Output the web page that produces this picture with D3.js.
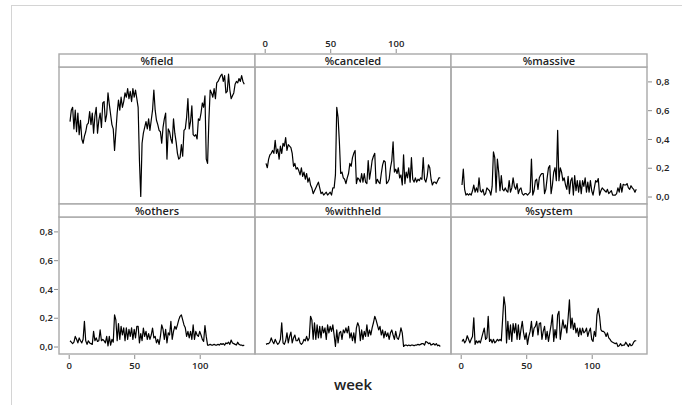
<!DOCTYPE html>
<html>
<head>
<meta charset="utf-8">
<script src="https://cdn.jsdelivr.net/npm/d3@7"></script>
<style>
  body { margin: 0; background: #fff; }
  svg text { font-family: "Open Sans", "DejaVu Sans", sans-serif; }
</style>
</head>
<body>
<div id="chart"></div>
<script>
// weekly shares, weeks 1..134
const weeks = d3.range(1, 135);

const field = [
  0.52,0.60,0.62,0.47,0.60,0.45,0.58,0.43,0.53,0.40,
  0.37,0.42,0.45,0.50,0.51,0.59,0.50,0.58,0.44,0.56,
  0.62,0.44,0.53,0.58,0.48,0.65,0.66,0.52,0.57,0.72,
  0.64,0.57,0.50,0.47,0.32,0.45,0.58,0.67,0.60,0.69,
  0.62,0.66,0.72,0.69,0.75,0.68,0.73,0.66,0.75,0.69,
  0.74,0.68,0.62,0.25,0.00,0.37,0.44,0.48,0.52,0.47,
  0.54,0.46,0.53,0.60,0.74,0.60,0.53,0.50,0.46,0.45,
  0.37,0.48,0.54,0.58,0.26,0.47,0.45,0.40,0.37,0.54,
  0.44,0.38,0.30,0.26,0.27,0.36,0.28,0.46,0.47,0.55,
  0.68,0.47,0.52,0.63,0.43,0.42,0.43,0.40,0.54,0.53,
  0.58,0.65,0.62,0.70,0.26,0.23,0.53,0.74,0.72,0.69,
  0.75,0.68,0.79,0.80,0.82,0.84,0.85,0.80,0.84,0.72,
  0.73,0.85,0.74,0.68,0.70,0.72,0.78,0.80,0.79,0.82,
  0.80,0.84,0.80,0.78
];

const canceled = [
  0.23,0.20,0.26,0.29,0.30,0.32,0.30,0.39,0.30,0.33,
  0.26,0.35,0.30,0.37,0.35,0.41,0.32,0.36,0.35,0.34,
  0.30,0.21,0.23,0.19,0.20,0.18,0.15,0.20,0.14,0.17,
  0.12,0.16,0.10,0.13,0.08,0.06,0.02,0.04,0.06,0.08,
  0.10,0.06,0.02,0.03,0.01,0.02,0.03,0.01,0.02,0.03,
  0.01,0.06,0.06,0.15,0.62,0.55,0.38,0.16,0.17,0.13,
  0.12,0.09,0.13,0.16,0.23,0.21,0.27,0.30,0.32,0.09,
  0.13,0.12,0.10,0.16,0.10,0.16,0.10,0.09,0.25,0.12,
  0.18,0.25,0.28,0.30,0.09,0.12,0.10,0.09,0.16,0.22,
  0.25,0.24,0.09,0.10,0.12,0.20,0.25,0.38,0.17,0.19,
  0.16,0.20,0.13,0.15,0.08,0.29,0.09,0.17,0.13,0.20,
  0.10,0.27,0.12,0.10,0.13,0.10,0.12,0.11,0.13,0.12,
  0.27,0.12,0.10,0.14,0.22,0.20,0.12,0.08,0.10,0.10,
  0.09,0.11,0.13,0.13
];

const massive = [
  0.08,0.19,0.05,0.01,0.02,0.01,0.02,0.01,0.04,0.08,
  0.03,0.06,0.03,0.13,0.04,0.03,0.05,0.01,0.02,0.06,
  0.05,0.04,0.01,0.07,0.31,0.27,0.03,0.26,0.17,0.04,
  0.145,0.05,0.04,0.06,0.04,0.03,0.11,0.03,0.06,0.13,
  0.07,0.05,0.09,0.02,0.05,0.06,0.02,0.01,0.02,0.02,
  0.01,0.02,0.03,0.26,0.01,0.04,0.11,0.12,0.05,0.13,
  0.15,0.16,0.16,0.02,0.05,0.13,0.20,0.215,0.02,0.08,
  0.17,0.20,0.11,0.46,0.11,0.20,0.17,0.11,0.13,0.08,
  0.05,0.14,0.02,0.11,0.13,0.01,0.145,0.04,0.11,0.03,
  0.11,0.02,0.11,0.07,0.13,0.03,0.10,0.03,0.11,0.04,
  0.01,0.06,0.11,0.10,0.125,0.01,0.04,0.06,0.05,0.04,
  0.03,0.05,0.02,0.03,0.04,0.01,0.01,0.01,0.02,0.06,
  0.03,0.09,0.03,0.085,0.08,0.08,0.09,0.06,0.05,0.075,
  0.06,0.05,0.03,0.05
];

const others = [
  0.04,0.03,0.02,0.03,0.07,0.05,0.025,0.06,0.04,0.025,
  0.05,0.175,0.04,0.015,0.04,0.025,0.02,0.015,0.105,0.04,
  0.06,0.035,0.04,0.115,0.04,0.05,0.04,0.025,0.07,0.005,
  0.07,0.01,0.05,0.03,0.22,0.185,0.04,0.16,0.05,0.14,
  0.08,0.13,0.04,0.13,0.05,0.12,0.07,0.13,0.05,0.12,
  0.06,0.14,0.14,0.025,0.09,0.04,0.128,0.07,0.105,0.05,
  0.09,0.05,0.08,0.128,0.06,0.07,0.025,0.05,0.015,0.07,
  0.15,0.12,0.05,0.12,0.025,0.095,0.08,0.175,0.05,0.105,
  0.14,0.12,0.15,0.185,0.21,0.22,0.185,0.15,0.13,0.07,
  0.105,0.06,0.105,0.05,0.15,0.05,0.105,0.08,0.07,0.105,
  0.08,0.05,0.035,0.145,0.07,0.01,0.01,0.015,0.01,0.01,
  0.015,0.01,0.01,0.015,0.01,0.02,0.015,0.02,0.01,0.025,
  0.02,0.03,0.015,0.045,0.025,0.02,0.015,0.01,0.03,0.015,
  0.01,0.01,0.005,0.01
];

const withheld = [
  0.015,0.02,0.02,0.03,0.06,0.035,0.02,0.05,0.03,0.015,
  0.025,0.05,0.165,0.025,0.015,0.04,0.095,0.025,0.07,0.10,
  0.025,0.06,0.08,0.04,0.04,0.06,0.025,0.015,0.025,0.05,
  0.04,0.07,0.04,0.06,0.21,0.185,0.05,0.165,0.05,0.15,
  0.06,0.14,0.06,0.14,0.095,0.13,0.05,0.15,0.095,0.14,
  0.105,0.15,0.08,0.00,0.115,0.025,0.095,0.105,0.05,0.115,
  0.095,0.13,0.095,0.14,0.06,0.095,0.04,0.095,0.025,0.13,
  0.165,0.14,0.04,0.115,0.05,0.105,0.07,0.15,0.07,0.115,
  0.08,0.13,0.165,0.21,0.185,0.15,0.115,0.14,0.08,0.115,
  0.06,0.105,0.07,0.095,0.05,0.095,0.115,0.08,0.05,0.105,
  0.06,0.05,0.08,0.13,0.095,0.00,0.01,0.01,0.005,0.01,
  0.005,0.01,0.01,0.005,0.01,0.01,0.015,0.01,0.015,0.02,
  0.02,0.01,0.035,0.03,0.02,0.025,0.01,0.015,0.02,0.01,
  0.02,0.005,0.01,0.00
];

const system = [
  0.035,0.05,0.025,0.04,0.075,0.05,0.025,0.05,0.07,0.20,
  0.015,0.04,0.025,0.04,0.025,0.06,0.095,0.128,0.05,0.06,
  0.21,0.035,0.05,0.025,0.05,0.025,0.035,0.05,0.04,0.05,
  0.04,0.19,0.345,0.28,0.025,0.175,0.05,0.15,0.035,0.16,
  0.095,0.16,0.05,0.15,0.05,0.118,0.175,0.095,0.05,0.095,
  0.015,0.07,0.105,0.175,0.07,0.128,0.14,0.175,0.08,0.16,
  0.165,0.05,0.105,0.14,0.05,0.105,0.035,0.095,0.15,0.22,
  0.035,0.118,0.06,0.22,0.245,0.05,0.118,0.185,0.128,0.15,
  0.095,0.20,0.325,0.128,0.197,0.118,0.163,0.095,0.128,0.07,
  0.128,0.08,0.128,0.095,0.105,0.128,0.07,0.105,0.128,0.05,
  0.035,0.105,0.07,0.22,0.265,0.21,0.118,0.105,0.105,0.095,
  0.07,0.095,0.06,0.05,0.035,0.03,0.025,0.02,0.025,0.00,
  0.005,0.02,0.005,0.01,0.01,0.03,0.015,0.00,0.02,0.005,
  0.01,0.03,0.04,0.04
];

const xTicks = [0, 50, 100];
const yTicks = [0, 0.2, 0.4, 0.6, 0.8];

// lattice order: top row first as drawn
const panels = [
  {name: '%field',    values: field,    row: 0, col: 0},
  {name: '%canceled', values: canceled, row: 0, col: 1},
  {name: '%massive',  values: massive,  row: 0, col: 2},
  {name: '%others',   values: others,   row: 1, col: 0},
  {name: '%withheld', values: withheld, row: 1, col: 1},
  {name: '%system',   values: system,   row: 1, col: 2}
];

const W = 682, H = 405;
const marginLeft = 59, marginTop = 54;
const panelW = 196, stripH = 13, plotH = 137, rowH = stripH + plotH;
const BORDER = '#a9a9a9';

const svg = d3.select('#chart').append('svg')
  .attr('width', W)
  .attr('height', H);

// outer frame
svg.append('rect')
  .attr('x', 11.5).attr('y', 5.5)
  .attr('width', W + 20).attr('height', H + 20)
  .attr('fill', 'none')
  .attr('stroke', '#d4d4d4');

const x = d3.scaleLinear().domain([-7.4, 142.2]).range([0, panelW]);
const y = d3.scaleLinear().domain([-0.052, 0.9]).range([plotH, 0]);

const fmt = d3.formatLocale({decimal: ',', thousands: '.', grouping: [3], currency: ['', '']}).format('.1f');

const line = d3.line()
  .x((d, i) => x(weeks[i]))
  .y(d => y(d));

function styleAxis(g) {
  g.select('.domain').remove();
  g.selectAll('.tick line').attr('stroke', '#8c8c8c');
  g.selectAll('.tick text')
    .attr('fill', '#222')
    .style('font-size', '9.5px')
    .style('font-weight', 600);
}

panels.forEach(p => {
  const g = svg.append('g')
    .attr('transform', `translate(${marginLeft + p.col*panelW},${marginTop + p.row*rowH})`);

  const plot = g.append('g').attr('transform', `translate(0,${stripH})`);

  plot.append('path')
    .datum(p.values)
    .attr('d', line)
    .attr('fill', 'none')
    .attr('stroke', '#000')
    .attr('stroke-width', 1.2)
    .attr('stroke-linejoin', 'round');

  plot.append('rect')
    .attr('width', panelW).attr('height', plotH)
    .attr('fill', 'none')
    .attr('stroke', BORDER)
    .attr('stroke-width', 1.4);

  // strip
  g.append('rect')
    .attr('width', panelW).attr('height', stripH)
    .attr('fill', '#fff')
    .attr('stroke', BORDER)
    .attr('stroke-width', 1.4);
  g.append('text')
    .attr('x', panelW/2).attr('y', stripH/2 + 4)
    .attr('text-anchor', 'middle')
    .attr('fill', '#222')
    .style('font-size', '11px')
    .style('font-weight', 600)
    .text(p.name);

  // alternating axes, as lattice does
  if (p.row === 1 && p.col !== 1) {
    plot.append('g')
      .attr('transform', `translate(0,${plotH + 1})`)
      .call(d3.axisBottom(x).tickValues(xTicks).tickSize(4).tickPadding(3))
      .call(styleAxis);
  }
  if (p.row === 0 && p.col === 1) {
    g.append('g')
      .attr('transform', 'translate(0,-1)')
      .call(d3.axisTop(x).tickValues(xTicks).tickSize(4).tickPadding(2))
      .call(styleAxis);
  }
  if (p.row === 1 && p.col === 0) {
    plot.append('g')
      .attr('transform', 'translate(-1,0)')
      .call(d3.axisLeft(y).tickValues(yTicks).tickFormat(fmt).tickSize(4).tickPadding(1))
      .call(styleAxis);
  }
  if (p.row === 0 && p.col === 2) {
    plot.append('g')
      .attr('transform', `translate(${panelW + 1},0)`)
      .call(d3.axisRight(y).tickValues(yTicks).tickFormat(fmt).tickSize(4).tickPadding(4))
      .call(styleAxis);
  }
});

svg.append('text')
  .attr('x', marginLeft + 1.5*panelW)
  .attr('y', 390)
  .attr('text-anchor', 'middle')
  .attr('fill', '#222')
  .style('font-size', '15px')
  .style('font-weight', 600)
  .text('week');
</script>
</body>
</html>
